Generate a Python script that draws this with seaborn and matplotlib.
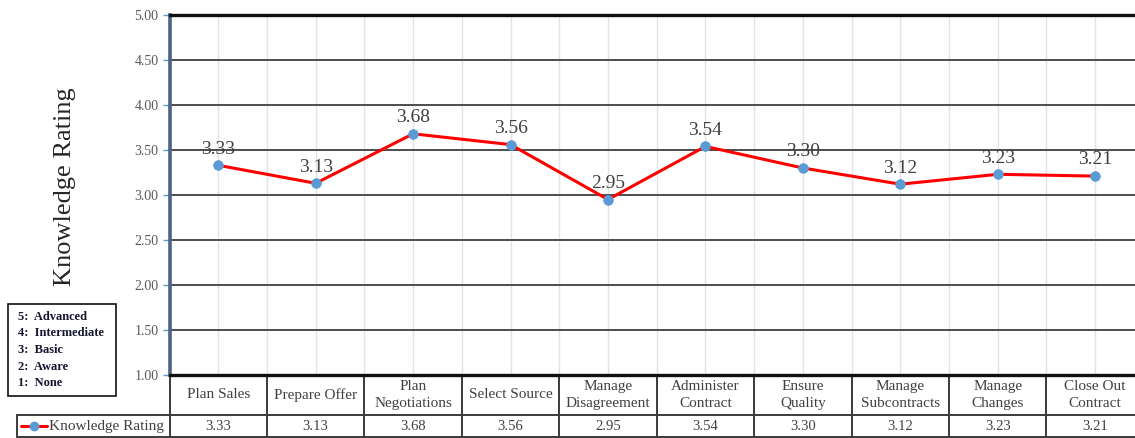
import matplotlib
matplotlib.use("Agg")
import matplotlib.pyplot as plt
import matplotlib.transforms as mtransforms
from matplotlib.lines import Line2D
from matplotlib.patches import Rectangle
import seaborn as sns
import pandas as pd

# ---------------- data ----------------
categories = ["Plan Sales", "Prepare Offer", "Plan Negotiations", "Select Source",
              "Manage Disagreement", "Administer Contract", "Ensure Quality",
              "Manage Subcontracts", "Manage Changes", "Close Out Contract"]
table_labels = ["Plan Sales", "Prepare Offer", "Plan\nNegotiations", "Select Source",
                "Manage\nDisagreement", "Administer\nContract", "Ensure\nQuality",
                "Manage\nSubcontracts", "Manage\nChanges", "Close Out\nContract"]
ratings = [3.33, 3.13, 3.68, 3.56, 2.95, 3.54, 3.30, 3.12, 3.23, 3.21]
series_name = "Knowledge Rating"
y_ticks = [1.00, 1.50, 2.00, 2.50, 3.00, 3.50, 4.00, 4.50, 5.00]
scale_labels = ["5:  Advanced", "4:  Intermediate", "3:  Basic", "2:  Aware", "1:  None"]

df = pd.DataFrame({"Category": categories, series_name: ratings})

# ---------------- style ----------------
sns.set_theme(style="white")
plt.rcParams["font.family"] = ["Liberation Serif", "DejaVu Serif"]

W, H = 1135, 438
fig = plt.figure(figsize=(W / 100, H / 100), dpi=100)

def fx(px):
    return px / W

def fy(py):
    return 1 - py / H

ax_left, ax_right, ax_top, ax_bottom = 169.5, 1143.9, 15, 375
ax = fig.add_axes([fx(ax_left), fy(ax_bottom), (ax_right - ax_left) / W, (ax_bottom - ax_top) / H])

line_red = "#ff0000"
marker_blue = "#5b9bd5"
text_gray = "#404040"

sns.lineplot(data=df, x="Category", y=series_name, ax=ax, sort=False,
             color=line_red, linewidth=2.2, marker="o", markersize=7,
             markerfacecolor=marker_blue, markeredgecolor=marker_blue,
             markeredgewidth=0.5, zorder=5)

n = len(categories)
ax.set_xlim(-0.5, n - 0.5)
ax.set_ylim(y_ticks[0], y_ticks[-1])
ax.set_xlabel("")

# grid
ax.set_yticks(y_ticks)
ax.set_yticklabels([f"{t:.2f}" for t in y_ticks], fontsize=10, color="#595959")
ax.set_xticks(range(n))
ax.set_xticklabels([])
ax.tick_params(axis="x", which="both", length=0)
ax.tick_params(axis="y", which="major", length=5, width=1, color=marker_blue,
               direction="out", pad=3, left=True)
ax.grid(False)
for t in y_ticks[1:-1]:
    ax.axhline(t, color="#4d4d4d", linewidth=1.4, zorder=1)
for xv in list(range(n)) + [i - 0.5 for i in range(n + 1)]:
    ax.axvline(xv, color="#e3e3e3", linewidth=1.0, zorder=0)

for s in ["top", "bottom"]:
    ax.spines[s].set_color("#111111")
    ax.spines[s].set_linewidth(2.4)
ax.spines["left"].set_color("#4a6582")
ax.spines["left"].set_linewidth(2.6)
ax.spines["right"].set_visible(False)

# y label
ax.set_ylabel(series_name, fontsize=19, color="#262626", va="center")
ax.yaxis.set_label_coords((65 - ax_left) / (ax_right - ax_left), (ax_bottom - 187) / (ax_bottom - ax_top))

# data labels
for i, v in enumerate(ratings):
    ax.annotate(f"{v:.2f}", (i, v), xytext=(0, 5.5), textcoords="offset points",
                ha="center", va="bottom", fontsize=14, color=text_gray, zorder=6)

# ---------------- data table ----------------
trans = mtransforms.blended_transform_factory(ax.transData, ax.transAxes)
ah = ax_bottom - ax_top
row2_bot = -(437 - ax_bottom) / ah
row1_mid = -(395 - ax_bottom) / ah
row2_mid = -(426.5 - ax_bottom) / ah
tbl_color = "#3a3a3a"

for b in [i - 0.5 for i in range(n + 1)]:
    ax.add_line(Line2D([b, b], [0, row2_bot], transform=trans, color=tbl_color,
                       linewidth=1.4, clip_on=False))
for i, lab in enumerate(table_labels):
    ax.text(i, row1_mid, lab, transform=trans, ha="center", va="center",
            fontsize=11, color=text_gray, linespacing=1.45, clip_on=False)
    ax.text(i, row2_mid, f"{ratings[i]:.2f}", transform=trans, ha="center", va="center",
            fontsize=10.5, color=text_gray, clip_on=False)

# horizontal table lines (figure coords, extend to legend key cell)
for py in [415, 437]:
    fig.add_artist(Line2D([fx(17), fx(W + 20)], [fy(py), fy(py)], color=tbl_color, linewidth=1.4))
fig.add_artist(Line2D([fx(17), fx(17)], [fy(415), fy(437)], color=tbl_color, linewidth=1.4))

# legend key in table
fig.add_artist(Line2D([fx(21), fx(47)], [fy(426), fy(426)], color=line_red, linewidth=2.2))
fig.add_artist(Line2D([fx(34)], [fy(426)], marker="o", markersize=6,
                      markerfacecolor=marker_blue, markeredgecolor=marker_blue, linestyle="none"))
fig.text(fx(49), fy(426.5), series_name, ha="left", va="center", fontsize=11, color=text_gray)

# ---------------- scale box ----------------
fig.add_artist(Rectangle((fx(8), fy(396)), fx(116) - fx(8), fy(304) - fy(396),
                         fill=False, edgecolor="#111111", linewidth=1.2))
for lab, py in zip(scale_labels, [317, 333, 350, 366.5, 383]):
    fig.text(fx(18), fy(py), lab, ha="left", va="center", fontsize=9,
             fontweight="bold", color="#161630")

fig.savefig("out.png", dpi=100)
